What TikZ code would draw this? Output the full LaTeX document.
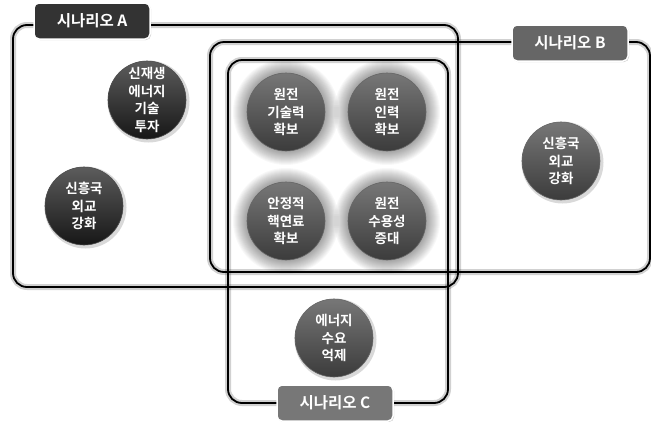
\documentclass[tikz,border=0pt]{standalone}
\usepackage{fontspec}
\newfontfamily\krb{Noto Sans CJK KR Bold}
\usetikzlibrary{shadows}
\definecolor{darkc}{HTML}{262626}
\definecolor{grayc}{HTML}{555555}
\definecolor{labA}{HTML}{333333}
\definecolor{labB}{HTML}{666666}
\definecolor{labC}{HTML}{777777}
\tikzset{
  frame/.style={rounded corners=14pt, line width=1.8pt, draw=black},
  frameshadow/.style={rounded corners=14pt, line width=6pt, draw=black, opacity=0.18},
  label/.style={rounded corners=5pt, draw=white, line width=1.5pt, text=white,
    font=\krb\fontsize{15.5}{15.5}\selectfont, minimum height=36pt, inner xsep=8pt,
    drop shadow={shadow xshift=1pt, shadow yshift=-1pt, opacity=0.4}},
  bub/.style={circle, minimum size=78pt, inner sep=0pt, text=white, align=center,
    font=\krb\fontsize{13.5}{17.5}\selectfont},
  darkb/.style={bub, shading=axis, top color=darkc!75!white, bottom color=darkc!60!black,
    draw=black!70, line width=0.6pt},
  grayb/.style={bub, shading=axis, top color=grayc!80!white, bottom color=grayc!70!black,
    draw=black!60, line width=0.6pt},
}
\newcommand{\glowat}[1]{%
  \foreach \r in {53,52,...,40}{%
    \fill[black, opacity=0.028] (#1) circle (\r pt);}}
\newcommand{\shadowat}[1]{%
  \fill[black, opacity=0.15] ([shift={(1.5,1.5)}]#1) circle (41pt);}
\begin{document}
\begin{tikzpicture}[x=1pt,y=-1pt]
\useasboundingbox (0,0) rectangle (651,421);
\fill[white] (0,0) rectangle (651,421);
% frame shadows
\draw[frameshadow] (13,25) rectangle (458,287);
\draw[frameshadow] (210,42) rectangle (650,272);
\draw[frameshadow] (228,60) rectangle (448,403);
% frames
\draw[frame] (13,25) rectangle (458,287);
\draw[frame] (210,42) rectangle (650,272);
\draw[frame] (228,60) rectangle (448,403);
% glows and shadows
\glowat{286,112}\glowat{387,112}\glowat{286,221}\glowat{387,221}
\shadowat{147,100}\shadowat{84,206}\shadowat{561,161}\shadowat{334,338}
% bubbles
\node[darkb] (ren) at (147,100) {신재생\\에너지\\기술\\투자};
\node[darkb] (dipA) at (84,206) {신흥국\\외교\\강화};
\node[grayb] (tech) at (286,112) {원전\\기술력\\확보};
\node[grayb] (man) at (387,112) {원전\\인력\\확보};
\node[grayb] (fuel) at (286,221) {안정적\\핵연료\\확보};
\node[grayb] (acc) at (387,221) {원전\\수용성\\증대};
\node[grayb] (dipB) at (561,161) {신흥국\\외교\\강화};
\node[grayb] (dem) at (334,338) {에너지\\수요\\억제};
% labels
\node[label, fill=labA, minimum width=116pt] (la) at (92,21) {시나리오 A};
\node[label, fill=labB, minimum width=116pt] (lb) at (570,43) {시나리오 B};
\node[label, fill=labC, minimum width=116pt] (lc) at (335,403) {시나리오 C};
\end{tikzpicture}
\end{document}
